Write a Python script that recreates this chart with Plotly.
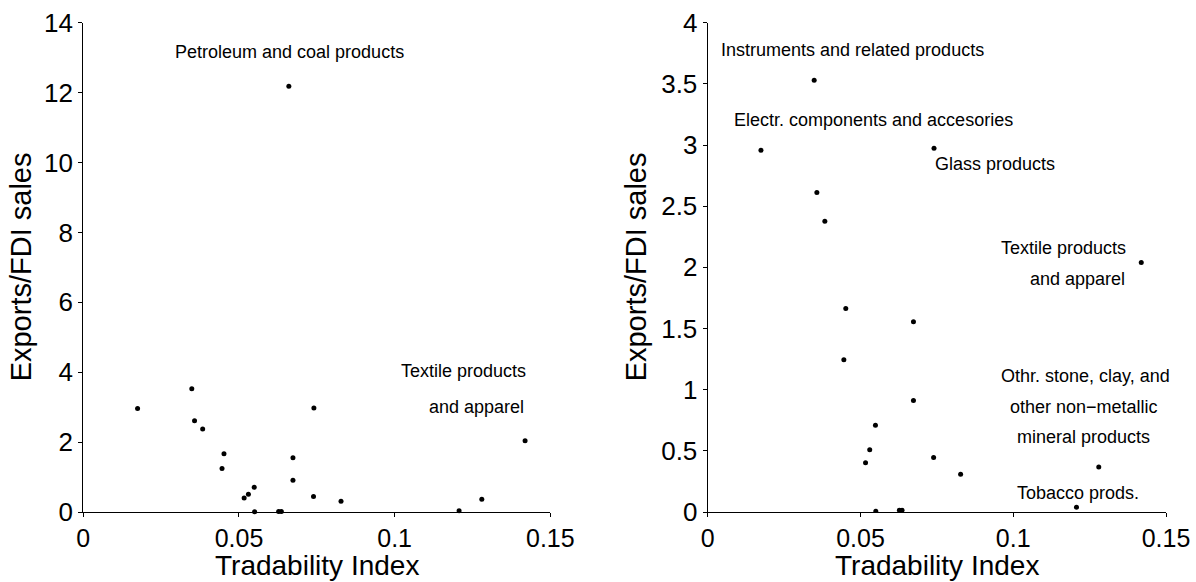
import plotly.graph_objects as go

# Industry-level observations: tradability index vs exports/FDI sales ratio
tradability = [0.01743, 0.03485, 0.07407, 0.03573, 0.03834, 0.1419, 0.04519,
               0.06734, 0.04456, 0.06734, 0.05490, 0.05303, 0.05166, 0.07394,
               0.08278, 0.1280, 0.1207, 0.05502, 0.06274, 0.06361, 0.06602]
export_fdi = [2.958, 3.530, 2.973, 2.612, 2.376, 2.039, 1.664,
              1.555, 1.245, 0.912, 0.709, 0.509, 0.403, 0.445,
              0.309, 0.367, 0.039, 0.006, 0.015, 0.015, 12.18]

# Labels: (text, x, y) in data units of each panel
left_labels = [
    ("Petroleum and coal products", 0.06615, 13.15),
    ("Textile products", 0.1220, 4.03),
    ("and apparel", 0.1264, 3.00),
]
right_labels = [
    ("Instruments and related products", 0.04737, 3.773),
    ("Electr. components and accesories", 0.05415, 3.203),
    ("Glass products", 0.09398, 2.845),
    ("Textile products", 0.1164, 2.158),
    ("and apparel", 0.1209, 1.903),
    ("Othr. stone, clay, and", 0.1237, 1.112),
    ("other non\u2212metallic", 0.1230, 0.858),
    ("mineral products", 0.1230, 0.612),
    ("Tobacco prods.", 0.1211, 0.158),
]

x_ticks = [0, 0.05, 0.1, 0.15]
x_tick_text = ["0", "0.05", "0.1", "0.15"]
left_y_ticks = [0, 2, 4, 6, 8, 10, 12, 14]
right_y_ticks = [0, 0.5, 1, 1.5, 2, 2.5, 3, 3.5, 4]
right_y_text = ["0", "0.5", "1", "1.5", "2", "2.5", "3", "3.5", "4"]

FONT = "Liberation Sans, Arial, sans-serif"
W, H = 1196, 582

fig = go.Figure()
marker = dict(color="black", size=5)
fig.add_trace(go.Scatter(x=tradability, y=export_fdi, mode="markers",
                         marker=marker, xaxis="x", yaxis="y",
                         cliponaxis=False, showlegend=False))
fig.add_trace(go.Scatter(x=tradability, y=export_fdi, mode="markers",
                         marker=marker, xaxis="x2", yaxis="y2",
                         cliponaxis=True, showlegend=False))

axis_common = dict(showline=True, linecolor="black", linewidth=1.3,
                   ticks="outside", ticklen=4, tickwidth=1.1, tickcolor="black",
                   showgrid=False, zeroline=False, automargin=False,
                   tickfont=dict(family=FONT, size=26, color="black"))

y_dom = [(H - 512) / H, (H - 22.7) / H]
left_dom = [83.3 / W, 550.3 / W]
right_dom = [707.7 / W, 1166 / W]

x_tick_font = dict(family=FONT, size=25, color="black")

fig.update_layout(
    width=W, height=H,
    margin=dict(l=0, r=0, t=0, b=0),
    paper_bgcolor="white", plot_bgcolor="white",
    xaxis=dict(axis_common, domain=left_dom, range=[0, 0.15],
               tickvals=x_ticks, ticktext=x_tick_text, anchor="y",
               tickfont=x_tick_font),
    yaxis=dict(axis_common, domain=y_dom, range=[0, 14],
               tickvals=left_y_ticks, anchor="x"),
    xaxis2=dict(axis_common, domain=right_dom, range=[0, 0.15],
                tickvals=x_ticks, ticktext=x_tick_text, anchor="y2",
                tickfont=x_tick_font),
    yaxis2=dict(axis_common, domain=y_dom, range=[0, 4],
                tickvals=right_y_ticks, ticktext=right_y_text, anchor="x2"),
)

ann_font = dict(family=FONT, size=18, color="black")
for text, x, y in left_labels:
    fig.add_annotation(x=x, y=y, xref="x", yref="y", text=text, showarrow=False,
                       font=ann_font, xanchor="center", yanchor="middle")
for text, x, y in right_labels:
    fig.add_annotation(x=x, y=y, xref="x2", yref="y2", text=text, showarrow=False,
                       font=ann_font, xanchor="center", yanchor="middle")

title_font = dict(family=FONT, size=29, color="black")
y_mid = (H - (512 + 22.7) / 2) / H
for xc in (21 / W, 636 / W):
    fig.add_annotation(x=xc, y=y_mid, xref="paper", yref="paper",
                       text="Exports/FDI sales", textangle=-90, showarrow=False,
                       font=title_font, xanchor="center", yanchor="middle")
for xc in ((83.3 + 550.3) / 2 / W, (707.7 + 1166) / 2 / W):
    fig.add_annotation(x=xc, y=0, xref="paper", yref="paper",
                       text="Tradability Index", showarrow=False, borderpad=0,
                       font=dict(family=FONT, size=28, color="black"),
                       xanchor="center", yanchor="bottom")

fig.write_html("out.html")
